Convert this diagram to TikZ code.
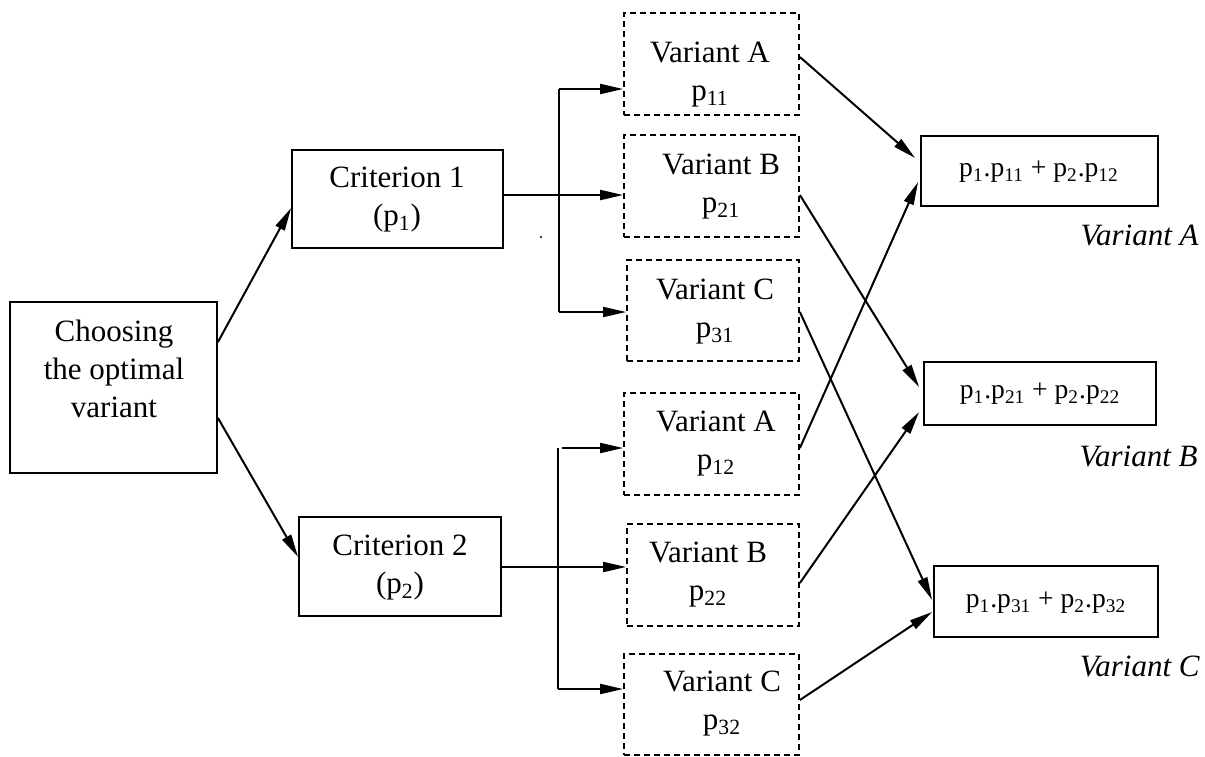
\documentclass[tikz,border=0pt]{standalone}
\usepackage{fontspec}
\setmainfont{Liberation Serif}
\usetikzlibrary{arrows.meta,fit,calc}
\begin{document}
\begin{tikzpicture}[x=0.5pt,y=-0.5pt,
  box/.style={draw,line width=0.9pt,inner sep=0pt},
  dbox/.style={draw,line width=0.9pt,dash pattern=on 3pt off 2pt,inner sep=0pt},
  txt/.style={align=center,inner sep=0pt,font=\fontsize{15.5}{19}\selectfont},
  rtxt/.style={inner sep=0pt,font=\fontsize{13.8}{17}\selectfont},
  itxt/.style={inner sep=0pt,anchor=east,font=\fontsize{15.5}{19}\selectfont\itshape},
  arr/.style={line width=1pt,-{Triangle[length=11.5pt,width=5pt]}},
  ln/.style={line width=1pt}]
\useasboundingbox (0,0) rectangle (1205,756);

% main boxes
\node[box,fit={(10,302)(217,473)}] (main) {};
\node[txt] (maint) at (114,369) {Choosing\\the optimal\\variant};
\node[box,fit={(292,150)(503,248)}] (c1) {};
\node[txt] (c1t) at (397,200) {Criterion 1\\(p\textsubscript{1})};
\node[box,fit={(299,517)(501,616)}] (c2) {};
\node[txt] (c2t) at (400,568) {Criterion 2\\(p\textsubscript{2})};

% variant boxes
\node[dbox,fit={(624,13)(799,115)}] (va1) {};
\node[txt] (va1t) at (710,75) {Variant A\\p\textsubscript{11}};
\node[dbox,fit={(624,135)(799,237)}] (vb1) {};
\node[txt] (vb1t) at (721,187) {Variant B\\p\textsubscript{21}};
\node[dbox,fit={(627,260)(799,361)}] (vc1) {};
\node[txt] (vc1t) at (715,312) {Variant C\\p\textsubscript{31}};
\node[dbox,fit={(624,393)(799,495)}] (va2) {};
\node[txt] (va2t) at (716,444) {Variant A\\p\textsubscript{12}};
\node[dbox,fit={(627,524)(799,626)}] (vb2) {};
\node[txt] (vb2t) at (708,575) {Variant B\\p\textsubscript{22}};
\node[dbox,fit={(624,654)(799,755)}] (vc2) {};
\node[txt] (vc2t) at (722,704) {Variant C\\p\textsubscript{32}};

% result boxes
\node[box,fit={(921,136)(1158,206)}] (r1) {};
\node[rtxt] (r1t) at (1039,172) {p\textsubscript{1}.p\textsubscript{11} + p\textsubscript{2}.p\textsubscript{12}};
\node[box,fit={(924,362)(1156,425)}] (r2) {};
\node[rtxt] (r2t) at (1040,394) {p\textsubscript{1}.p\textsubscript{21} + p\textsubscript{2}.p\textsubscript{22}};
\node[box,fit={(934,566)(1158,637)}] (r3) {};
\node[rtxt] (r3t) at (1046,603) {p\textsubscript{1}.p\textsubscript{31} + p\textsubscript{2}.p\textsubscript{32}};

\node[itxt] (la) at (1199,235) {Variant A};
\node[itxt] (lb) at (1198,456) {Variant B};
\node[itxt] (lc) at (1200,666) {Variant C};

% main to criteria
\draw[arr] ($(main.north east)+(0,41)$) -- ($(c1.west)+(0,9)$);
\draw[arr] ($(main.south east)+(0,-56)$) -- ($(c2.west)+(0,-9.5)$);

% bracket 1
\coordinate (k1a) at (559,89);
\coordinate (k1b) at (559,195);
\coordinate (k1c) at (559,312);
\draw[ln] (k1a) -- (k1c);
\draw[arr] (k1a) -- (va1.west |- k1a);
\draw[arr] (c1.east |- k1b) -- (vb1.west |- k1b);
\draw[arr] (k1c) -- (vc1.west |- k1c);
\fill (541,237) circle (0.6pt);

% bracket 2
\coordinate (k2a) at (558,448);
\coordinate (k2b) at (558,567);
\coordinate (k2c) at (558,689);
\draw[ln] (k2a) -- (k2c);
\draw[arr] ($(k2a)+(4,0)$) -- (va2.west |- k2a);
\draw[arr] (c2.east |- k2b) -- (vb2.west |- k2b);
\draw[arr] (k2c) -- (vc2.west |- k2c);

% cross arrows
\draw[arr] ($(va1.east)+(0,-7)$) -- ($(r1.west)+(-5,-13)$);
\draw[arr] ($(vb1.east)+(0,9)$) -- ($(r2.west)+(-4,-6.5)$);
\draw[arr] ($(vc1.east)+(0,1.5)$) -- ($(r3.west)+(-1,-1.5)$);
\draw[arr] ($(va2.east)+(0,4)$) -- ($(r1.west)+(-2,11)$);
\draw[arr] ($(vb2.east)+(0,8)$) -- ($(r2.west)+(-4,18.5)$);
\draw[arr] ($(vc2.east)+(0,-4.5)$) -- ($(r3.west)+(-1,10.5)$);
\end{tikzpicture}
\end{document}
